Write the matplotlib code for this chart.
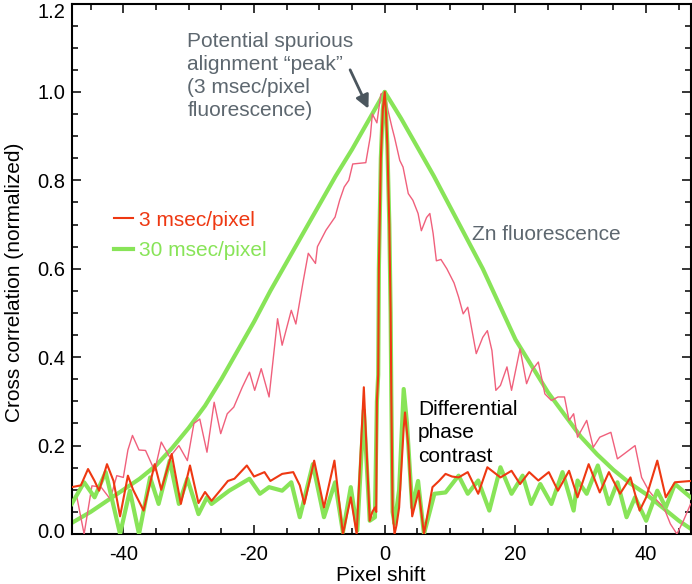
import matplotlib
matplotlib.use("Agg")
import matplotlib.pyplot as plt
from matplotlib.ticker import MultipleLocator
import matplotlib.transforms as mtransforms

plt.rcParams['font.family'] = ['Liberation Sans', 'DejaVu Sans']

# ---------------- data ----------------
# 30 msec/pixel Zn fluorescence (smooth, thick green)
fl30_x = [-47.9, -45, -42.5, -40, -37.5, -35, -32.5, -30, -27.5, -25, -22.5, -20, -17.5, -15,
          -12.5, -10, -7.5, -5, -2.5, 0, 2.5, 5, 7.5, 10, 12.5, 15, 17.5, 20, 22.5, 25, 27.5,
          30, 32.5, 35, 37.5, 40, 42.5, 45, 46.8]
fl30_y = [0.025, 0.05, 0.075, 0.10, 0.125, 0.155, 0.195, 0.24, 0.29, 0.35, 0.415, 0.48, 0.55, 0.615,
          0.68, 0.745, 0.81, 0.87, 0.935, 1.0, 0.94, 0.875, 0.81, 0.74, 0.67, 0.60, 0.52, 0.44,
          0.38, 0.32, 0.27, 0.22, 0.18, 0.145, 0.115, 0.09, 0.06, 0.03, 0.012]

# 3 msec/pixel Zn fluorescence (noisy, thin pink)
fl3_x = [-47.9, -47.1, -46.0, -44.8, -43.4, -42.0, -41.0, -40.0, -39.3, -38.6, -37.6, -36.6,
         -35.2, -34.2, -32.9, -31.5, -30.2, -29.2, -28.3, -27.2, -26.1, -25.1, -24.1, -23.1,
         -21.8, -20.7, -19.9, -18.9, -17.7, -16.4, -15.7, -14.3, -13.6, -12.5, -11.7, -10.6,
         -10.3, -9.0, -7.6, -6.9, -6.2, -5.5, -4.9, -2.9, -2.2, -1.9, -1.2, -0.6, 0.0,
         0.5, 1.1, 1.5, 2.3, 2.8, 3.6, 4.3, 5.1, 5.6, 6.4, 6.9, 7.4, 7.9, 8.6, 9.5, 10.6,
         11.3, 12.0, 12.7, 14.0, 15.0, 15.7, 16.4, 17.0, 17.7, 18.7, 19.4, 20.7, 21.7, 22.5,
         23.5, 24.5, 25.5, 26.5, 27.5, 28.2, 28.9, 29.5, 30.9, 31.9, 32.9, 34.6, 35.6, 36.6,
         38.3, 39.3, 40.4, 41.7, 42.7, 43.7, 44.7, 45.7, 46.8]
fl3_y = [0.075, 0.083, 0.0, 0.109, 0.106, 0.079, 0.132, 0.128, 0.19, 0.223, 0.19, 0.189,
         0.143, 0.208, 0.174, 0.20, 0.166, 0.25, 0.26, 0.185, 0.298, 0.227, 0.272, 0.287,
         0.332, 0.366, 0.325, 0.374, 0.31, 0.487, 0.427, 0.506, 0.475, 0.57, 0.635, 0.612,
         0.65, 0.687, 0.717, 0.755, 0.785, 0.80, 0.837, 0.84, 0.90, 0.95, 0.93, 0.995, 1.0,
         0.958, 0.92, 0.897, 0.845, 0.83, 0.77, 0.755, 0.725, 0.686, 0.716, 0.725, 0.68, 0.618,
         0.621, 0.60, 0.568, 0.536, 0.498, 0.513, 0.408, 0.445, 0.46, 0.415, 0.325, 0.336,
         0.378, 0.325, 0.419, 0.34, 0.37, 0.389, 0.317, 0.302, 0.31, 0.31, 0.257, 0.272,
         0.219, 0.257, 0.196, 0.219, 0.23, 0.17, 0.181, 0.2, 0.128, 0.098, 0.075, 0.06,
         0.023, 0.0, 0.03, 0.068]

# 3 msec/pixel differential phase contrast (red)
dpc3_x = [-47.9, -46.5, -45.4, -44.4, -43.7, -42.5, -41.5, -40.5, -39.3, -38.5, -36.9, -35.2,
          -34.2, -32.6, -31.2, -29.8, -28.5, -27.5, -26.5, -25.1, -24.0, -23.0, -21.1, -20.0,
          -18.4, -17.5, -15.7, -14.0, -13.0, -12.3, -10.8, -9.3, -7.7, -6.4, -5.2, -4.3,
          -3.2, -2.3, -1.9, -1.5, -1.3, -1.2, -1.0, -0.9, -0.6, -0.3, 0.0, 0.2, 0.4, 0.7,
          0.9, 1.0, 1.2, 1.5, 1.8, 2.2, 2.9, 3.1, 3.6, 4.2, 5.2, 6.0, 7.3, 8.3, 9.3, 10.3,
          11.3, 12.7, 14.3, 15.7, 17.7, 19.4, 20.7, 22.1, 23.5, 25.1, 26.5, 28.2, 29.5, 31.2,
          32.9, 34.3, 36.0, 37.6, 39.0, 40.0, 41.7, 43.0, 44.4, 46.8]
dpc3_y = [0.106, 0.11, 0.147, 0.12, 0.098, 0.158, 0.12, 0.04, 0.132, 0.10, 0.053, 0.158,
          0.10, 0.181, 0.068, 0.155, 0.07, 0.095, 0.075, 0.10, 0.12, 0.125, 0.155, 0.13,
          0.14, 0.12, 0.136, 0.14, 0.11, 0.068, 0.166, 0.06, 0.166, 0.0, 0.083, 0.0,
          0.332, 0.03, 0.05, 0.06, 0.05, 0.30, 0.36, 0.60, 0.85, 0.96, 1.0, 0.95, 0.88, 0.70,
          0.50, 0.32, 0.05, 0.0, 0.02, 0.06, 0.24, 0.275, 0.20, 0.04, 0.098, 0.0, 0.106, 0.12,
          0.136, 0.13, 0.128, 0.14, 0.091, 0.151, 0.128, 0.143, 0.113, 0.14, 0.121, 0.14,
          0.098, 0.143, 0.083, 0.158, 0.094, 0.14, 0.091, 0.128, 0.053, 0.083, 0.166, 0.083,
          0.117, 0.12]

# 30 msec/pixel differential phase contrast (thick green)
dpc30_x = [-47.9, -46.0, -44.4, -42.7, -40.5, -39.0, -37.6, -35.9, -34.6, -32.9, -31.5, -30.2,
           -28.5, -27.2, -26.5, -23.8, -20.7, -19.1, -17.7, -15.7, -14.3, -13.0, -11.0, -9.3,
           -7.6, -6.4, -5.2, -4.2, -3.2, -2.3, -1.5, -1.2, -1.0, -0.9, -0.6, -0.3, 0.0, 0.2,
           0.4, 0.7, 0.9, 1.0, 1.2, 1.5, 2.2, 2.9, 3.4, 4.2, 5.1, 6.0, 7.6, 9.3, 11.3, 12.7,
           14.3, 16.0, 17.7, 19.4, 21.1, 22.4, 23.8, 25.5, 27.2, 28.9, 29.5, 30.9, 32.6, 34.3,
           35.6, 37.0, 38.3, 40.0, 41.7, 43.0, 44.4, 46.8]
dpc30_y = [0.068, 0.117, 0.083, 0.14, 0.0, 0.098, 0.0, 0.128, 0.068, 0.166, 0.068, 0.125,
           0.045, 0.083, 0.068, 0.098, 0.125, 0.091, 0.106, 0.098, 0.117, 0.038, 0.158, 0.038,
           0.117, 0.004, 0.106, 0.008, 0.28, 0.03, 0.038, 0.30, 0.36, 0.60, 0.85, 0.96, 1.0, 0.95,
           0.88, 0.70, 0.50, 0.32, 0.05, 0.023, 0.10, 0.328, 0.25, 0.06, 0.12, 0.0, 0.091, 0.094,
           0.132, 0.091, 0.121, 0.053, 0.151, 0.091, 0.132, 0.068, 0.113, 0.068, 0.140, 0.053,
           0.121, 0.091, 0.155, 0.068, 0.117, 0.038, 0.083, 0.030, 0.098, 0.060, 0.113, 0.083]

x_ticks = [-40, -20, 0, 20, 40]
y_ticks = [0.0, 0.2, 0.4, 0.6, 0.8, 1.0, 1.2]

GREEN = '#88e458'
PINK = '#f0607c'
RED = '#ee3812'
GRAY = '#5d676f'

# ---------------- figure ----------------
fig = plt.figure(figsize=(6.92, 5.84), dpi=100)
ax = fig.add_axes([0.1036, 0.0856, 0.8944, 0.9084])

ax.plot(fl30_x, fl30_y, color=GREEN, lw=3.0, solid_joinstyle='round', zorder=2)
ax.plot(fl3_x, fl3_y, color=PINK, lw=1.0, zorder=3)
l30, = ax.plot(dpc30_x, dpc30_y, color=GREEN, lw=3.0, solid_joinstyle='round', zorder=4)
l3, = ax.plot(dpc3_x, dpc3_y, color=RED, lw=1.5, zorder=5)

ax.set_xlim(-47.9, 46.8)
ax.set_ylim(0.0, 1.2)
ax.set_xticks(x_ticks)
ax.set_yticks(y_ticks)
ax.set_xticklabels([f'{t:d}' for t in x_ticks])
ax.set_yticklabels([f'{t:.1f}' for t in y_ticks])
ax.xaxis.set_minor_locator(MultipleLocator(5))
ax.yaxis.set_minor_locator(MultipleLocator(0.05))
ax.tick_params(which='both', direction='in', top=True, right=True, width=1.1,
               labelsize=14.5, color='black')
ax.tick_params(axis='x', pad=8)
ax.tick_params(axis='y', pad=4.5)
ax.tick_params(which='major', length=6.5)
ax.tick_params(which='minor', length=4)
for s in ax.spines.values():
    s.set_linewidth(1.5)

# nudge extreme y tick labels like the reference (top one kept inside the figure)
ylabels = ax.get_yticklabels()
ylabels[-1].set_transform(ylabels[-1].get_transform() +
                          mtransforms.ScaledTranslation(0, -7 / 100, fig.dpi_scale_trans))
ylabels[0].set_transform(ylabels[0].get_transform() +
                         mtransforms.ScaledTranslation(0, 4 / 100, fig.dpi_scale_trans))

ax.set_xlabel('Pixel shift', fontsize=15, labelpad=1.0)
ax.set_ylabel('Cross correlation (normalized)', fontsize=15)
ax.yaxis.set_label_coords(-0.077, 0.475)

ax.text(-30.2, 1.135, 'Potential spurious\nalignment \u201cpeak\u201d\n(3 msec/pixel\nfluorescence)',
        color=GRAY, fontsize=15, va='top', ha='left', linespacing=1.27)
ax.annotate('', xy=(-2.5, 0.962), xytext=(-5.3, 1.05),
            arrowprops=dict(arrowstyle='-|>', color='#4b565e', lw=2.0, mutation_scale=20,
                            shrinkA=0, shrinkB=0))
ax.text(13.3, 0.677, 'Zn fluorescence', color=GRAY, fontsize=15, va='center', ha='left')
ax.text(5.1, 0.229, 'Differential\nphase\ncontrast', color='black', fontsize=15,
        va='center', ha='left', linespacing=1.3)

ax.legend([l3, l30], ['3 msec/pixel', '30 msec/pixel'], loc='center left',
          bbox_to_anchor=(0.068, 0.563), frameon=False, fontsize=15, handlelength=0.9,
          handletextpad=0.3, labelcolor='linecolor', borderpad=0, borderaxespad=0,
          labelspacing=0.55)

fig.savefig('out.png', dpi=100)
